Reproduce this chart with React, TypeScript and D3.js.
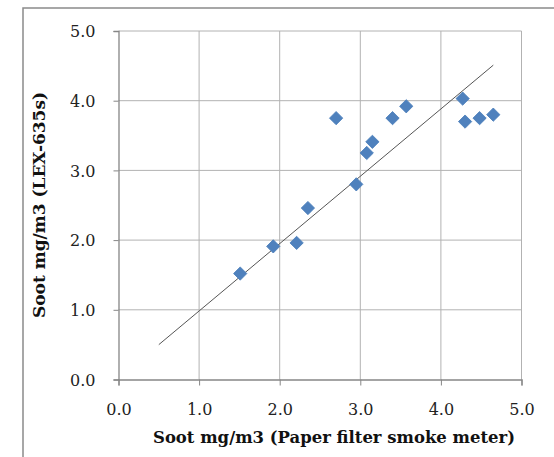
import React, { useEffect, useRef } from "react";
import * as d3 from "d3";

// readings: paper filter smoke meter (x) vs LEX-635s (y), mg/m3
const paperFilter = [1.51, 1.92, 2.21, 2.35, 2.7, 2.95, 3.08, 3.15, 3.4, 3.57, 4.27, 4.3, 4.48, 4.65];
const lex635s = [1.52, 1.91, 1.96, 2.46, 3.75, 2.8, 3.25, 3.41, 3.75, 3.92, 4.03, 3.7, 3.75, 3.8];
// straight reference line end points
const lineX = [0.5, 4.65];
const lineY = [0.5, 4.51];
const ticks = [0, 1, 2, 3, 4, 5];

const xTitle = "Soot mg/m3 (Paper filter smoke meter)";
const yTitle = "Soot mg/m3 (LEX-635s)";

const W = 554;
const H = 457;
const font = "'DejaVu Serif', serif";

export default function App() {
  const ref = useRef<SVGSVGElement>(null);

  useEffect(() => {
    const svg = d3.select(ref.current);
    svg.selectAll("*").remove();

    const x = d3.scaleLinear().domain([0, 5]).range([118.5, 521.5]);
    const y = d3.scaleLinear().domain([0, 5]).range([379.5, 31]);

    // outer chart frame (runs off the picture to the right and bottom)
    svg.append("rect")
      .attr("x", 23).attr("y", 8)
      .attr("width", 700).attr("height", 700)
      .attr("fill", "none")
      .attr("stroke", "#8a8a8a")
      .attr("stroke-width", 1.5);

    // grid
    const grid = svg.append("g").attr("stroke", "#b2b2b2").attr("stroke-width", 1);
    ticks.slice(1).forEach(t => {
      grid.append("line")
        .attr("x1", x(0)).attr("x2", x(5))
        .attr("y1", y(t)).attr("y2", y(t));
      grid.append("line")
        .attr("x1", x(t)).attr("x2", x(t))
        .attr("y1", y(0)).attr("y2", y(5));
    });

    // axes
    const yAxis = svg.append("g")
      .attr("transform", `translate(${x(0)},0)`)
      .call(d3.axisLeft(y).tickValues(ticks).tickSize(5).tickFormat(d3.format(".1f")));
    const xAxis = svg.append("g")
      .attr("transform", `translate(0,${y(0)})`)
      .call(d3.axisBottom(x).tickValues(ticks).tickSize(6).tickFormat(d3.format(".1f")));

    [xAxis, yAxis].forEach(a => {
      a.select(".domain").attr("stroke", "#868686").attr("stroke-width", 1.3);
      a.selectAll(".tick line").attr("stroke", "#868686");
      a.selectAll("text")
        .attr("font-family", font)
        .attr("font-size", 16)
        .attr("fill", "#222");
    });
    yAxis.selectAll("text").attr("x", -23).attr("dy", "0.36em");
    xAxis.selectAll("text").attr("y", 24);

    // trend line
    svg.append("line")
      .attr("x1", x(lineX[0])).attr("y1", y(lineY[0]))
      .attr("x2", x(lineX[1])).attr("y2", y(lineY[1]))
      .attr("stroke", "#555")
      .attr("stroke-width", 1);

    // points
    const diamond = d3.symbol().type(d3.symbolSquare).size(88);
    svg.append("g")
      .selectAll("path")
      .data(paperFilter)
      .join("path")
      .attr("d", diamond)
      .attr("transform", (d, i) => `translate(${x(d)},${y(lex635s[i])}) rotate(45)`)
      .attr("fill", "#4f81bd")
      .attr("stroke", "#4a7ebb")
      .attr("stroke-width", 0.8);

    svg.append("text")
      .attr("x", 334).attr("y", 443)
      .attr("text-anchor", "middle")
      .attr("font-family", font)
      .attr("font-weight", "bold")
      .attr("font-size", 16.5)
      .attr("textLength", 362)
      .attr("lengthAdjust", "spacingAndGlyphs")
      .attr("fill", "#111")
      .text(xTitle);

    svg.append("text")
      .attr("transform", "translate(45,205) rotate(-90)")
      .attr("text-anchor", "middle")
      .attr("font-family", font)
      .attr("font-weight", "bold")
      .attr("font-size", 16.5)
      .attr("textLength", 226)
      .attr("lengthAdjust", "spacingAndGlyphs")
      .attr("fill", "#111")
      .text(yTitle);
  }, []);

  return (
    <svg
      ref={ref}
      width={W}
      height={H}
      style={{ position: "absolute", left: 0, top: 0, background: "#fff" }}
    />
  );
}
